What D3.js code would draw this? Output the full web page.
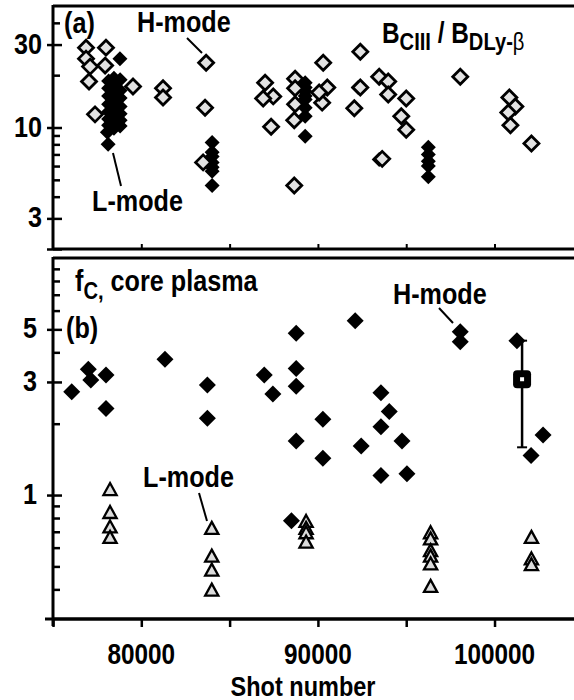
<!DOCTYPE html>
<html>
<head>
<meta charset="utf-8">
<script src="https://cdn.jsdelivr.net/npm/d3@7"></script>
<style>
  body { margin: 0; background: #fff; }
  text { font-family: 'Liberation Sans', Arial, sans-serif; font-weight: bold; fill: #000; }
</style>
</head>
<body>
<svg id="chart" width="574" height="700"></svg>
<script>
// panel (a): B_CIII / B_D Ly-beta
const aHShot = [76870, 78000, 76870, 77100, 77950, 77040, 79530, 77380, 81230, 81230,
  83670, 83610, 83500, 87010, 87470, 86900, 87350, 88710, 88710, 88710, 88660, 88660,
  90300, 90530, 90240, 90070, 92400, 92400, 92060, 93470, 93980, 93980, 95000, 94720,
  95000, 93640, 98060, 100840, 101180, 100780, 100900, 102090];
const aHVal = [28.8, 28.8, 24.9, 22.4, 22.7, 18.4, 17.2, 11.9, 16.8, 14.9,
  23.6, 13.0, 6.3, 18.1, 15.1, 14.7, 10.1, 19.1, 16.8, 13.6, 11.0, 4.64,
  23.6, 17.0, 13.9, 15.9, 27.3, 17.0, 12.9, 19.6, 18.4, 15.5, 14.7, 11.6,
  9.7, 6.6, 19.6, 14.9, 13.2, 12.2, 10.3, 8.1];
const aLShot = [78790, 78080, 78120,
  78150, 78150, 78150, 78150, 78150, 78150, 78150,
  78450, 78450, 78450, 78450, 78450, 78450, 78450, 78450,
  78800, 78800, 78800, 78800, 78800, 78800, 78800,
  84010, 84010, 84010, 84010, 84010, 84010, 84010,
  89280, 89280, 89280, 89280, 89280, 89280, 89280, 89280,
  92280, 93470, 96250, 96250, 96250, 96250, 96250, 98060];
const aLVal = [24.9, 9.4, 8.0,
  18.5, 16.8, 15.2, 13.6, 12.3, 11.2, 10.3,
  19.2, 17.5, 15.8, 14.2, 12.8, 11.6, 10.6, 9.9,
  18.8, 16.3, 14.8, 13.2, 12.0, 11.0, 10.2,
  8.2, 7.2, 6.8, 6.3, 5.9, 5.6, 4.64,
  18.1, 17.0, 16.1, 15.2, 14.5, 13.0, 11.6, 8.9,
  17.0, 6.55, 7.7, 7.0, 6.4, 6.0, 5.2, 19.6];

// panel (b): f_C core plasma
const bHShot = [76060, 77000, 77140, 78000, 78000, 81340, 83740, 83740, 86960, 87450,
  88770, 88770, 88770, 88770, 88500, 90280, 90280, 92110, 92450, 93570, 94040, 93570,
  93570, 94760, 95040, 98060, 98060, 101270, 102750, 102070];
const bHVal = [2.73, 3.39, 3.06, 3.21, 2.32, 3.74, 2.91, 2.11, 3.21, 2.67,
  4.81, 3.42, 2.88, 1.69, 0.78, 2.09, 1.43, 5.44, 1.61, 2.70, 2.25, 1.94,
  1.21, 1.69, 1.23, 4.89, 4.43, 4.48, 1.79, 1.47];
const bLShot = [78230, 78230, 78230, 78230, 83990, 83990, 83990, 83990,
  89330, 89330, 89330, 89330, 96380, 96380, 96380, 96380, 96380, 96380,
  102090, 102090, 102090];
const bLVal = [1.05, 0.84, 0.73, 0.66, 0.72, 0.55, 0.48, 0.395,
  0.77, 0.72, 0.69, 0.63, 0.69, 0.65, 0.58, 0.55, 0.51, 0.41,
  0.66, 0.535, 0.506];
const errShot = [101560];
const errVal = [3.08];
const errLo = [1.59];
const errHi = [4.48];

const xTicks = [75000, 80000, 85000, 90000, 95000, 100000];
const xLabels = [80000, 90000, 100000];
const aMajor = [2, 3, 10, 30];
const aMinor = [4, 5, 6, 7, 8, 9, 20, 40];
const aLabels = [3, 10, 30];
const bMajor = [1, 3, 5];
const bMinor = [0.4, 0.5, 0.6, 0.7, 0.8, 0.9, 2, 4, 6, 7, 8, 9];
const bLabels = [1, 3, 5];

const svg = d3.select('#chart');
const x = d3.scaleLinear().domain([75000, 104500]).range([53, 574]);
const ya = d3.scaleLog().domain([2, 50]).range([249, 6]);
const yb = d3.scaleLog().domain([0.3, 10]).range([619, 258]);

const diamond = r => `M0,${-r}L${r},0L0,${r}L${-r},0Z`;
const triangle = `M0,-7L6.6,5L-6.6,5Z`;
const narrow = 0.84;

// narrow bold text, like the condensed face of the original
function ntext(sel, tx, ty, size, anchor) {
  return sel.attr('transform', d => `translate(${typeof tx === 'function' ? tx(d) : tx},${typeof ty === 'function' ? ty(d) : ty}) scale(${narrow},1)`)
    .attr('font-size', size).attr('text-anchor', anchor || 'start');
}

// frames
function frame(y, top, bottom) {
  svg.append('line').attr('x1', x.range()[0]).attr('x2', 574)
    .attr('y1', y.range()[1]).attr('y2', y.range()[1])
    .attr('stroke', '#000').attr('stroke-width', 3);
  svg.append('line').attr('x1', x.range()[0]).attr('x2', 574)
    .attr('y1', y.range()[0]).attr('y2', y.range()[0])
    .attr('stroke', '#000').attr('stroke-width', 3);
  svg.append('line').attr('x1', x.range()[0]).attr('x2', x.range()[0])
    .attr('y1', top).attr('y2', bottom)
    .attr('stroke', '#000').attr('stroke-width', 3);
}
frame(ya, 5, 250);
frame(yb, 257, 626);

// y axes
function yAxis(y, major, minor, labels, labelX) {
  const g = svg.append('g').attr('transform', `translate(${x.range()[0]},0)`);
  g.call(d3.axisLeft(y).tickValues(minor).tickSize(-7).tickFormat(''))
    .call(s => s.select('.domain').remove());
  const g2 = svg.append('g').attr('transform', `translate(${x.range()[0]},0)`);
  g2.call(d3.axisLeft(y).tickValues(major).tickSize(6).tickFormat(''))
    .call(s => s.select('.domain').remove())
    .call(s => s.selectAll('.tick line').attr('x2', -6).attr('x1', 9));
  svg.selectAll('.tick line').attr('stroke-width', 2.5);
  svg.append('g').selectAll('text').data(labels).join('text')
    .call(s => ntext(s, labelX, d => y(d) + 9, 30, 'end'))
    .text(d => d);
}
yAxis(ya, aMajor, aMinor, aLabels, 42);
yAxis(yb, bMajor, bMinor, bLabels, 37);

// x axes
svg.append('g').attr('transform', `translate(0,${yb.range()[0]})`)
  .call(d3.axisBottom(x).tickValues(xTicks).tickSize(8).tickFormat(''))
  .call(s => s.select('.domain').remove())
  .call(s => s.selectAll('.tick line').attr('stroke-width', 2.5));
svg.append('line').attr('x1', 45).attr('x2', 574)
  .attr('y1', yb.range()[0]).attr('y2', yb.range()[0])
  .attr('stroke', '#000').attr('stroke-width', 3);
svg.append('g').attr('transform', `translate(0,${ya.range()[0]})`)
  .call(d3.axisTop(x).tickValues(xTicks.slice(1)).tickSize(5).tickFormat(''))
  .call(s => s.select('.domain').remove())
  .call(s => s.selectAll('.tick line').attr('stroke-width', 2));
svg.append('g').selectAll('text').data(xLabels).join('text')
  .call(s => ntext(s, d => x(d), 664, 29, 'middle'))
  .text(d => d);
ntext(svg.append('text'), 303, 696, 28, 'middle').text('Shot number');

// panel (a) points
svg.append('g').selectAll('path').data(aLShot.map((s, i) => [s, aLVal[i]])).join('path')
  .attr('transform', d => `translate(${x(d[0])},${ya(d[1])})`)
  .attr('d', diamond(7.5)).attr('fill', '#000');
svg.append('g').selectAll('path').data(aHShot.map((s, i) => [s, aHVal[i]])).join('path')
  .attr('transform', d => `translate(${x(d[0])},${ya(d[1])})`)
  .attr('d', diamond(7.5)).attr('fill', '#e2e2e2')
  .attr('stroke', '#000').attr('stroke-width', 2.8);

// panel (b) points
svg.append('g').selectAll('path').data(bLShot.map((s, i) => [s, bLVal[i]])).join('path')
  .attr('transform', d => `translate(${x(d[0])},${yb(d[1])})`)
  .attr('d', triangle).attr('fill', '#dcdcdc')
  .attr('stroke', '#000').attr('stroke-width', 2.3).attr('stroke-linejoin', 'miter');
svg.append('g').selectAll('path').data(bHShot.map((s, i) => [s, bHVal[i]])).join('path')
  .attr('transform', d => `translate(${x(d[0])},${yb(d[1])})`)
  .attr('d', diamond(8.5)).attr('fill', '#000');

// error bar point
const eb = svg.append('g').selectAll('g').data(errShot.map((s, i) => ({ s, v: errVal[i], lo: errLo[i], hi: errHi[i] })))
  .join('g');
eb.append('line').attr('x1', d => x(d.s)).attr('x2', d => x(d.s))
  .attr('y1', d => yb(d.lo)).attr('y2', d => yb(d.hi))
  .attr('stroke', '#000').attr('stroke-width', 2.5);
eb.append('line').attr('x1', d => x(d.s) - 5).attr('x2', d => x(d.s) + 5)
  .attr('y1', d => yb(d.lo)).attr('y2', d => yb(d.lo))
  .attr('stroke', '#000').attr('stroke-width', 2);
eb.append('line').attr('x1', d => x(d.s) - 5).attr('x2', d => x(d.s) + 5)
  .attr('y1', d => yb(d.hi)).attr('y2', d => yb(d.hi))
  .attr('stroke', '#000').attr('stroke-width', 2);
eb.append('rect').attr('x', d => x(d.s) - 9).attr('y', d => yb(d.v) - 9)
  .attr('width', 18).attr('height', 18).attr('rx', 4).attr('fill', '#000');
eb.append('rect').attr('x', d => x(d.s) - 2).attr('y', d => yb(d.v) - 2)
  .attr('width', 4).attr('height', 4).attr('fill', '#fff');

// annotations
function note(x0, y0, txt, size) {
  return ntext(svg.append('text'), x0, y0, size || 30).text(txt);
}
function leader(x1, y1, x2, y2) {
  svg.append('line').attr('x1', x1).attr('y1', y1).attr('x2', x2).attr('y2', y2)
    .attr('stroke', '#000').attr('stroke-width', 2);
}
note(64, 33, '(a)');
note(137, 32, 'H-mode');
leader(187, 38, 202, 53);
note(92, 211, 'L-mode');
leader(113, 153, 121, 186);

const t = ntext(svg.append('text'), 382, 43, 29);
t.append('tspan').text('B');
t.append('tspan').attr('font-size', 24).attr('dy', 7).text('CIII');
t.append('tspan').attr('dy', -7).text(' / B');
t.append('tspan').attr('font-size', 24).attr('dy', 7).text('DLy-');
t.append('tspan').attr('font-weight', 'normal').attr('font-size', 24).text('β');

const f = ntext(svg.append('text'), 75, 291, 30);
f.append('tspan').text('f');
f.append('tspan').attr('font-size', 24).attr('dy', 8).text('C,');
f.append('tspan').attr('dy', -8).text(' core plasma');
note(66, 338, '(b)');
note(393, 304, 'H-mode');
leader(439, 308, 453, 323);
note(143, 487, 'L-mode');
leader(199, 493, 207, 521);
</script>
</body>
</html>
